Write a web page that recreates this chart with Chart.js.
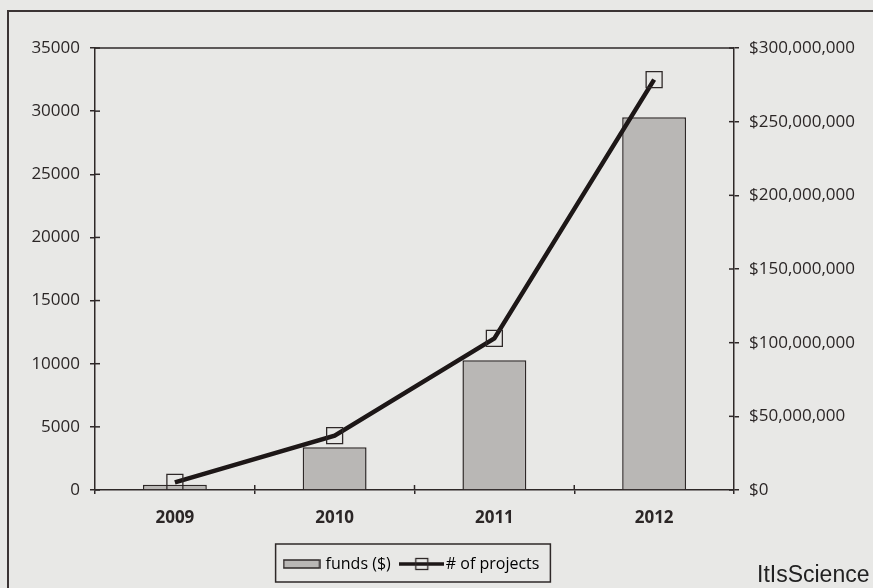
<!DOCTYPE html>
<html>
<head>
<meta charset="utf-8">
<script src="https://cdn.jsdelivr.net/npm/chart.js@4.4.1/dist/chart.umd.min.js"></script>
<style>
    html, body { margin: 0; padding: 0; background: #e8e8e6; }
    #wrap { position: relative; width: 873px; height: 588px; overflow: hidden; }
    #frame { position: absolute; left: 7px; top: 10px; width: 900px; height: 600px; border-left: 2px solid #3b3434; border-top: 2px solid #3b3434; }
    canvas { position: absolute; left: 0; top: 0; }
    #credit { position: absolute; left: 757px; top: 561px; font-family: 'Liberation Sans', Arial, sans-serif; font-size: 23px; color: #222; }
</style>
</head>
<body>
<div id="wrap">
    <div id="frame"></div>
    <canvas id="chart" width="873" height="588"></canvas>
    <div id="credit">ItIsScience</div>
</div>
<script>
const years = ['2009', '2010', '2011', '2012'];
const funds = [3500000, 29000000, 88000000, 253000000];
const projects = [600, 4300, 12000, 32500];
const projectTicks = [0, 5000, 10000, 15000, 20000, 25000, 30000, 35000];
const fundTicks = [0, 50000000, 100000000, 150000000, 200000000, 250000000, 300000000];

const ink = '#2e2828';
const barFill = '#b9b7b5';

Chart.defaults.font.family = "'Open Sans', sans-serif";
Chart.defaults.font.size = 17;
Chart.defaults.color = '#2b2626';

function swatch(w, h, draw) {
    const c = document.createElement('canvas');
    c.width = w;
    c.height = h;
    draw(c.getContext('2d'));
    return c;
}

const barSwatch = swatch(38, 10, g => {
    g.fillStyle = barFill;
    g.fillRect(1, 1, 36, 8);
    g.strokeStyle = ink;
    g.lineWidth = 1.5;
    g.strokeRect(1, 1, 36, 8);
});

const lineSwatch = swatch(45, 14, g => {
    g.strokeStyle = '#1d1717';
    g.lineWidth = 3.5;
    g.beginPath();
    g.moveTo(0, 7);
    g.lineTo(45, 7);
    g.stroke();
    g.strokeStyle = ink;
    g.lineWidth = 1.3;
    g.strokeRect(16.5, 1.5, 12, 11);
});

// plot frame top, inward tick stubs and the legend box
const extras = {
    id: 'extras',
    afterLayout(chart) {
        // legend sits a bit left of the canvas centre in the original
        chart.legend.right = chart.width - 48;
    },
    afterDraw(chart) {
        const ctx = chart.ctx;
        const area = chart.chartArea;
        const line = (x1, y1, x2, y2) => {
            ctx.beginPath();
            ctx.moveTo(x1, y1);
            ctx.lineTo(x2, y2);
            ctx.stroke();
        };
        ctx.save();
        ctx.strokeStyle = ink;
        ctx.lineWidth = 1.5;
        line(area.left, area.top, area.right, area.top);

        const y = chart.scales.y;
        const y2 = chart.scales.y2;
        const x = chart.scales.x;
        y.ticks.forEach((t, i) => {
            const py = y.getPixelForTick(i);
            line(area.left, py, area.left + 5, py);
        });
        y2.ticks.forEach((t, i) => {
            const py = y2.getPixelForTick(i);
            line(area.right - 5, py, area.right, py);
        });
        for (let i = 1; i < years.length; i++) {
            const px = x.getPixelForValue(i - 0.5);
            line(px, area.bottom - 5, px, area.bottom);
        }

        const boxes = chart.legend.legendHitBoxes;
        if (boxes.length) {
            const left = Math.min(...boxes.map(b => b.left)) - 10;
            const right = Math.max(...boxes.map(b => b.left + b.width)) + 11;
            const top = Math.min(...boxes.map(b => b.top)) - 12;
            const bottom = Math.max(...boxes.map(b => b.top + b.height)) + 10;
            ctx.lineWidth = 1.5;
            ctx.strokeRect(left, top, right - left, bottom - top);
        }
        ctx.restore();
    }
};

new Chart(document.getElementById('chart'), {
    data: {
        labels: years,
        datasets: [{
            type: 'bar',
            label: 'funds ($)',
            data: funds,
            yAxisID: 'y2',
            order: 2,
            backgroundColor: barFill,
            borderColor: ink,
            borderWidth: 1.5,
            categoryPercentage: 1,
            barPercentage: 0.4
        }, {
            type: 'line',
            label: '# of projects',
            data: projects,
            yAxisID: 'y',
            order: 1,
            borderColor: '#1d1717',
            borderWidth: 4.5,
            tension: 0,
            pointStyle: 'rect',
            pointRadius: 11.3,
            pointBackgroundColor: 'rgba(0,0,0,0)',
            pointBorderColor: ink,
            pointBorderWidth: 1.3
        }]
    },
    options: {
        responsive: false,
        animation: false,
        layout: {
            padding: { top: 48, left: 0, right: 0, bottom: 6 }
        },
        plugins: {
            tooltip: { enabled: false },
            legend: {
                position: 'bottom',
                labels: {
                    usePointStyle: true,
                    pointStyleWidth: 32,
                    padding: 15,
                    font: { size: 16 },
                    color: '#2b2626',
                    generateLabels: chart => chart.data.datasets.map((ds, i) => ({
                        text: ds.label,
                        pointStyle: i === 0 ? barSwatch : lineSwatch,
                        fillStyle: 'rgba(0,0,0,0)',
                        strokeStyle: 'rgba(0,0,0,0)',
                        lineWidth: 0,
                        hidden: false,
                        datasetIndex: i
                    }))
                }
            }
        },
        scales: {
            x: {
                afterFit: scale => { scale.height = 51; },
                grid: { display: true, drawOnChartArea: false, tickLength: 4, color: ink, lineWidth: 1.5 },
                border: { display: true, color: ink, width: 1.5 },
                ticks: { padding: 14, font: { weight: 'bold' }, color: '#2b2626' }
            },
            y: {
                position: 'left',
                min: 0,
                max: 35000,
                afterBuildTicks: scale => { scale.ticks = projectTicks.map(v => ({ value: v })); },
                afterFit: scale => { scale.width = 95; },
                grid: { display: true, drawOnChartArea: false, tickLength: 5, color: ink, lineWidth: 1.5 },
                border: { display: true, color: ink, width: 1.5 },
                ticks: { padding: 10, color: '#2b2626', callback: v => String(v) }
            },
            y2: {
                position: 'right',
                min: 0,
                max: 300000000,
                afterBuildTicks: scale => { scale.ticks = fundTicks.map(v => ({ value: v })); },
                afterFit: scale => { scale.width = 139; },
                grid: { display: true, drawOnChartArea: false, tickLength: 5, color: ink, lineWidth: 1.5 },
                border: { display: true, color: ink, width: 1.5 },
                ticks: {
                    padding: 10,
                    color: '#2b2626',
                    callback: v => '$' + v.toLocaleString('en-US')
                }
            }
        }
    },
    plugins: [extras]
});
</script>
</body>
</html>
